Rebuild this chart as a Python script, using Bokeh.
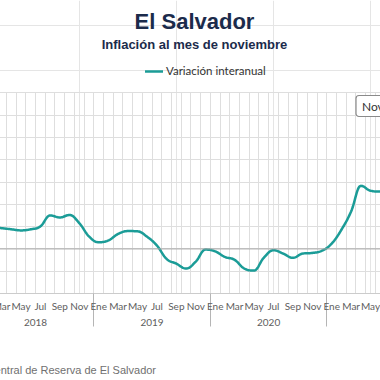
from bokeh.plotting import figure
from bokeh.models import (Range1d, LinearAxis, FixedTicker, Grid, Span, Label,
                          Legend, LegendItem)
from bokeh.embed import file_html
from bokeh.resources import INLINE

# ---------------- data ----------------
meses = ["Ene", "Feb", "Mar", "Abr", "May", "Jun", "Jul", "Ago", "Sep", "Oct", "Nov", "Dic"]
anios = ["2018", "2019", "2020", "2021"]
inicio = 1  # month index (0 = Ene 2018) of the first value: Feb 2018
variacion = [
    0.98, 0.93, 0.88, 0.83, 0.88, 1.01, 1.50, 1.41, 1.52, 1.16, 0.56,          # Feb-Dic 2018
    0.30, 0.38, 0.67, 0.80, 0.79, 0.54, 0.15, -0.45, -0.66, -0.88, -0.57, -0.03,  # 2019
    -0.11, -0.36, -0.49, -0.88, -0.97, -0.40, -0.06, -0.21, -0.40, -0.21, -0.18, -0.08,  # 2020
    0.24, 0.86, 1.68, 2.83, 2.61, 2.57, 2.75,                                   # Ene-Jul 2021
]
y_ticks = list(range(-2, 8))
fuente = "Fuente: Banco Central de Reserva de El Salvador"

TEAL = "#1b9c97"
NAVY = "#1b2b4b"


def hc_spline(xs, ys, n=14):
    """Smooth path through the points (Highcharts-style spline)."""
    sm, den = 1.5, 2.5
    N = len(xs)
    lc = [(xs[i], ys[i]) for i in range(N)]
    rc = [(xs[i], ys[i]) for i in range(N)]
    for i in range(1, N - 1):
        px, py = xs[i], ys[i]
        lx, ly = xs[i - 1], ys[i - 1]
        nx, ny = xs[i + 1], ys[i + 1]
        lcx, lcy = (sm * px + lx) / den, (sm * py + ly) / den
        rcx, rcy = (sm * px + nx) / den, (sm * py + ny) / den
        corr = ((rcy - lcy) * (rcx - px)) / (rcx - lcx) + py - rcy
        lcy += corr
        rcy += corr
        if lcy > ly and lcy > py:
            lcy = max(ly, py); rcy = 2 * py - lcy
        elif lcy < ly and lcy < py:
            lcy = min(ly, py); rcy = 2 * py - lcy
        if rcy > ny and rcy > py:
            rcy = max(ny, py); lcy = 2 * py - rcy
        elif rcy < ny and rcy < py:
            rcy = min(ny, py); lcy = 2 * py - rcy
        lc[i] = (lcx, lcy)
        rc[i] = (rcx, rcy)
    ox, oy = [xs[0]], [ys[0]]
    for i in range(1, N):
        p0 = (xs[i - 1], ys[i - 1]); p1 = rc[i - 1]; p2 = lc[i]; p3 = (xs[i], ys[i])
        for k in range(1, n + 1):
            t = k / n
            a, b, c, d = (1 - t) ** 3, 3 * (1 - t) ** 2 * t, 3 * (1 - t) * t ** 2, t ** 3
            ox.append(a * p0[0] + b * p1[0] + c * p2[0] + d * p3[0])
            oy.append(a * p0[1] + b * p1[1] + c * p2[1] + d * p3[1])
    return ox, oy


xs = [inicio + i for i in range(len(variacion))]
sx, sy = hc_spline(xs, variacion)

# layout constants: the chart is wider than the window and is shifted left,
# so that only its middle part is visible (as in the reference)
HIDDEN = 100                 # px of the canvas left of the window
VIEW_W = 380
W, H = VIEW_W + HIDDEN, 378
PX_PER_MONTH = 9.71
FRAME_BOTTOM = 294
PX_PER_UNIT = 22.37
x0 = (18.35 - HIDDEN) / PX_PER_MONTH
x1 = x0 + W / PX_PER_MONTH
ytop = y_ticks[0] + FRAME_BOTTOM / PX_PER_UNIT

p = figure(width=W, height=H, x_range=Range1d(x0, x1), y_range=Range1d(y_ticks[0], ytop),
           output_backend="svg", toolbar_location=None,
           x_axis_location=None, y_axis_location=None,
           min_border_top=0, min_border_bottom=H - FRAME_BOTTOM,
           min_border_left=0, min_border_right=0,
           margin=(0, 0, 0, -HIDDEN))
p.title = None
p.outline_line_color = None
p.background_fill_color = "white"
p.border_fill_color = "white"

GRID = "#dedede"
p.add_layout(Grid(dimension=0, ticker=FixedTicker(ticks=[k - 0.5 for k in range(-10, 49)]),
                  cross_bounds=(y_ticks[0], y_ticks[-1]),
                  grid_line_color=GRID, grid_line_width=1))
p.add_layout(Grid(dimension=1, ticker=FixedTicker(ticks=y_ticks),
                  grid_line_color=GRID, grid_line_width=1))
p.add_layout(Span(location=0, dimension="width", line_color="#a8a8a8", line_width=1))

line_r = p.line(sx, sy, line_color=TEAL, line_width=2.5, line_join="round", line_cap="round")

AXFONT = "Lato"
# month labels (every other month); year separators drawn as long minor ticks
xa = LinearAxis(
    ticker=FixedTicker(ticks=list(range(0, 48, 2)), minor_ticks=[11.5, 23.5, 35.5]),
    major_label_overrides={i: meses[i % 12] for i in range(0, 48, 2)},
    major_tick_line_color=None, major_tick_out=0, major_tick_in=0,
    minor_tick_out=33, minor_tick_in=0, minor_tick_line_color="#b5b5b5",
    axis_line_color="#cccccc", major_label_standoff=-27,
    major_label_text_font=AXFONT, major_label_text_font_size="10px",
    major_label_text_color="#5e5e5e")
p.add_layout(xa, "below")

year_pos = [5.5, 17.5, 29.5, 41.5]
ya = LinearAxis(
    ticker=FixedTicker(ticks=year_pos[:3]),
    major_label_overrides={year_pos[i]: anios[i] for i in range(3)},
    axis_line_color=None, major_tick_line_color=None, minor_tick_line_color=None,
    major_tick_out=0, major_tick_in=0, major_label_standoff=4,
    major_label_text_font=AXFONT, major_label_text_font_size="10px",
    major_label_text_color="#5e5e5e")
p.add_layout(ya, "below")

# source note, written under the year row
src_x = 5.345
sa = LinearAxis(
    ticker=FixedTicker(ticks=[src_x]),
    major_label_overrides={src_x: fuente},
    axis_line_color=None, major_tick_line_color=None, minor_tick_line_color=None,
    major_tick_out=0, major_tick_in=0, major_label_standoff=35,
    major_label_text_font="Liberation Sans", major_label_text_font_size="11px",
    major_label_text_color="#707070")
p.add_layout(sa, "below")

# titles (inside the top part of the frame)
p.add_layout(Label(x=HIDDEN + 194, y=FRAME_BOTTOM - 22.4, x_units="screen", y_units="screen",
                   text="El Salvador",
                   text_align="center", text_baseline="middle", text_font="Liberation Sans",
                   text_font_style="bold", text_font_size="22px", text_color=NAVY))
p.add_layout(Label(x=HIDDEN + 194, y=FRAME_BOTTOM - 45, x_units="screen", y_units="screen",
                   text="Inflación al mes de noviembre",
                   text_align="center", text_baseline="middle", text_font="Liberation Sans",
                   text_font_style="bold", text_font_size="13px", text_color=NAVY))

legend = Legend(items=[LegendItem(label="Variación interanual", renderers=[line_r])],
                location=(HIDDEN + 145, FRAME_BOTTOM - 78.3), orientation="horizontal",
                border_line_color=None, background_fill_alpha=0, padding=0, margin=0,
                glyph_width=18, glyph_height=12, label_standoff=3, label_height=12,
                label_text_font=AXFONT, label_text_font_size="11.5px", label_text_color="#333333")
p.add_layout(legend)

# tooltip box
p.add_layout(Label(x=HIDDEN + 355.5, y=FRAME_BOTTOM - 96, x_units="screen", y_units="screen",
                   text="Nov 2021",
                   text_align="left", text_baseline="top", text_font=AXFONT,
                   text_font_size="12px", text_color="#333333",
                   background_fill_color="white", border_line_color="#8a8a8a",
                   border_line_width=1.2, border_radius=3, padding=(6, 3)))

open("out.html", "w").write(file_html(p, INLINE))
